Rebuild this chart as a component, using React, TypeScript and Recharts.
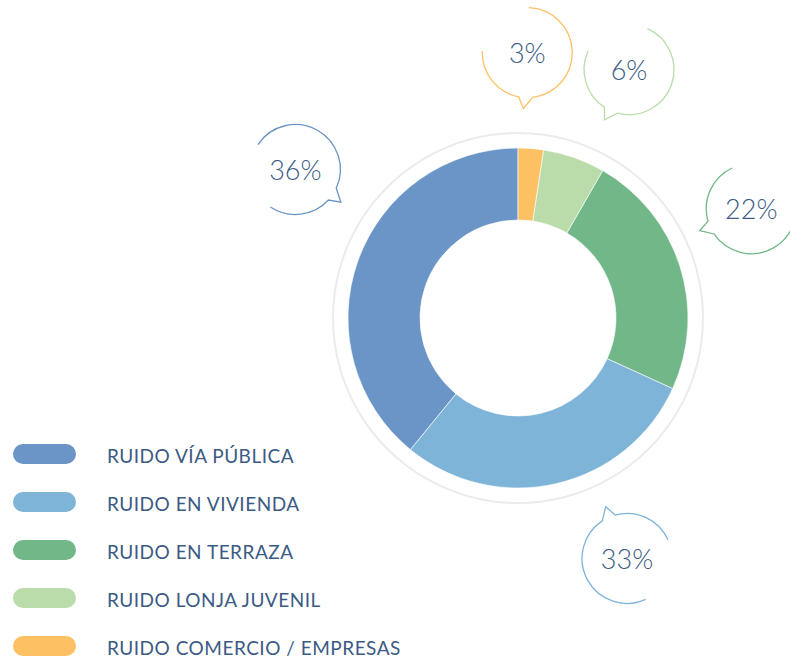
import { PieChart, Pie, Cell, Legend } from "recharts";

// slice shares as drawn in the graphic (the printed % labels are kept separately)
const categories = [
  "RUIDO VÍA PÚBLICA",
  "RUIDO EN VIVIENDA",
  "RUIDO EN TERRAZA",
  "RUIDO LONJA JUVENIL",
  "RUIDO COMERCIO / EMPRESAS",
];
const sliceShares = [39.1, 29.1, 23.5, 5.9, 2.4];
const percentLabels = ["36%", "33%", "22%", "6%", "3%"];

const COLORS = ["#6b95c6", "#7fb4d9", "#72b787", "#badcaa", "#fdc063"];
const TEXT_COLOR = "#3b5b84";

// where each speech bubble sits: angle (deg, ccw from 3 o'clock) and distance from the donut centre
const CALLOUT_ANGLE = [146.3, -65.6, 25.1, 65.9, 88.0];
const CALLOUT_DIST = [267.6, 264, 257.6, 272, 265.5];
const BUBBLE_R = 45;

const data = categories.map((name, i) => ({ name, value: sliceShares[i] }));
const ring = [{ name: "ring", value: 1 }];

const RAD = Math.PI / 180;

function Callout(props: any) {
  const { cx, cy, index } = props;
  const a = CALLOUT_ANGLE[index] * RAD;
  const d = CALLOUT_DIST[index];
  const bx = cx + d * Math.cos(a);
  const by = cy - d * Math.sin(a);
  // tail points back at the donut
  const phi = Math.atan2(cy - by, cx - bx) / RAD;
  const r = BUBBLE_R;
  const pt = (deg: number, rad: number = r) =>
    `${(bx + rad * Math.cos(deg * RAD)).toFixed(2)} ${(by + rad * Math.sin(deg * RAD)).toFixed(2)}`;
  const path =
    `M ${pt(180)} A ${r} ${r} 0 0 1 ${pt(351)} ` +
    `L ${pt(2, r + 11)} L ${pt(9)} A ${r} ${r} 0 0 1 ${pt(90)}`;
  return (
    <g>
      <path
        d={path}
        fill="none"
        stroke={COLORS[index]}
        strokeWidth={1.3}
        transform={`rotate(${phi.toFixed(2)} ${bx.toFixed(2)} ${by.toFixed(2)})`}
      />
      <text
        x={bx}
        y={by}
        textAnchor="middle"
        dominantBaseline="central"
        fontFamily="Lato, 'Open Sans', sans-serif"
        fontWeight={300}
        fontSize={27}
        fill={TEXT_COLOR}
      >
        {percentLabels[index]}
      </text>
    </g>
  );
}

function LegendList(props: any) {
  const items = (props.payload || [])
    .filter((p: any) => p.type !== "none")
    .slice()
    .sort((a: any, b: any) => categories.indexOf(a.value) - categories.indexOf(b.value));
  return (
    <div style={{ fontFamily: "Lato, 'Open Sans', sans-serif" }}>
      {items.map((p: any, i: number) => (
        <div
          key={i}
          style={{ display: "flex", alignItems: "center", height: 48 }}
        >
          <div
            style={{
              width: 63,
              height: 20,
              borderRadius: 10,
              background: p.color,
            }}
          />
          <span
            style={{
              marginLeft: 31,
              fontSize: 19,
              color: TEXT_COLOR,
              letterSpacing: 0.5,
              marginTop: 3,
            }}
          >
            {p.value}
          </span>
        </div>
      ))}
    </div>
  );
}

export default function App() {
  return (
    <div style={{ position: "absolute", left: 0, top: 0, width: 790, height: 658, background: "#fff" }}>
      <PieChart width={790} height={658} margin={{ top: 0, right: 0, bottom: 0, left: 0 }}>
        <Pie
          data={ring}
          dataKey="value"
          cx={518}
          cy={318}
          innerRadius={184}
          outerRadius={186}
          startAngle={90}
          endAngle={450}
          fill="#ebebeb"
          stroke="none"
          legendType="none"
          isAnimationActive={false}
        />
        <Pie
          data={data}
          dataKey="value"
          nameKey="name"
          cx={518}
          cy={318}
          innerRadius={98}
          outerRadius={170}
          startAngle={90}
          endAngle={450}
          stroke="#ffffff"
          strokeWidth={0.6}
          label={Callout}
          labelLine={false}
          isAnimationActive={false}
        >
          {data.map((_, i) => (
            <Cell key={i} fill={COLORS[i]} />
          ))}
        </Pie>
        <Legend
          layout="vertical"
          align="center"
          verticalAlign="middle"
          content={LegendList}
          wrapperStyle={{ left: 13, top: 430, width: 420 }}
        />
      </PieChart>
    </div>
  );
}
